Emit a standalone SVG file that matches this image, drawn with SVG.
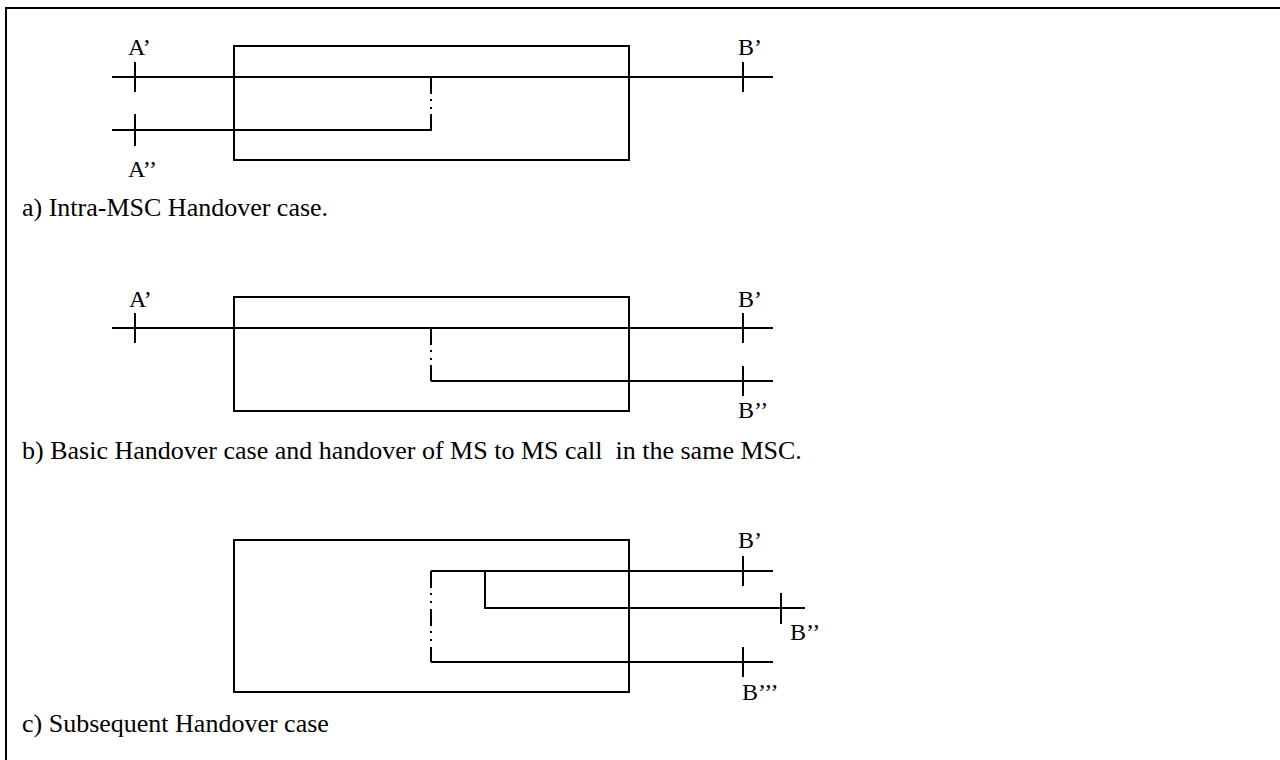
<svg xmlns="http://www.w3.org/2000/svg" width="1280" height="760" viewBox="0 0 1280 760">
<style>
.ln{stroke:#000;stroke-width:2;fill:none}
.dd{stroke:#000;stroke-width:2;fill:none;stroke-dasharray:17 5 2 6 2 6}
.t{font-family:"Liberation Serif","Times New Roman",serif;font-size:24px;fill:#000;white-space:pre}
.c{font-family:"Liberation Serif","Times New Roman",serif;font-size:26px;fill:#000;white-space:pre}
</style>
<rect width="1280" height="760" fill="#fff"/>
<g id="frame"><path class="ln" d="M6 760V8H1280"/></g>
<g id="msc-a"><rect class="ln" x="234" y="46" width="395" height="114"/></g>
<g id="msc-b"><rect class="ln" x="234" y="297" width="395" height="114"/></g>
<g id="msc-c"><rect class="ln" x="234" y="540" width="395" height="152"/></g>
<g id="connectors">
<path class="ln" d="M112 77H773M112 130H431V114M135 62V92M135 114V146M743 62V92"/>
<path class="dd" d="M431 77V114"/>
<path class="ln" d="M112 328H773M431 381H773M431 381V365M135 313V343M743 313V343M743 366V396"/>
<path class="dd" d="M431 328V366"/>
<path class="ln" d="M431 571H773M485 571V608H805M431 662H773M431 662V647M743 556V586M781 593V624M743 647V677"/>
<path class="dd" d="M431 571V647"/>
</g>
<g id="labels">
<text class="t" x="128" y="55">A’</text>
<text class="t" x="128" y="177">A’’</text>
<text class="t" x="738" y="55">B’</text>
<text class="t" x="129" y="307">A’</text>
<text class="t" x="738" y="307">B’</text>
<text class="t" x="738" y="418">B’’</text>
<text class="t" x="738" y="548">B’</text>
<text class="t" x="790" y="640">B’’</text>
<text class="t" x="742" y="700">B’’’</text>
</g>
<g id="captions">
<text class="c" x="22" y="216">a) Intra-MSC Handover case.</text>
<text class="c" x="22" y="459">b) Basic Handover case and handover of MS to MS call  in the same MSC.</text>
<text class="c" x="22" y="732">c) Subsequent Handover case</text>
</g>
</svg>
